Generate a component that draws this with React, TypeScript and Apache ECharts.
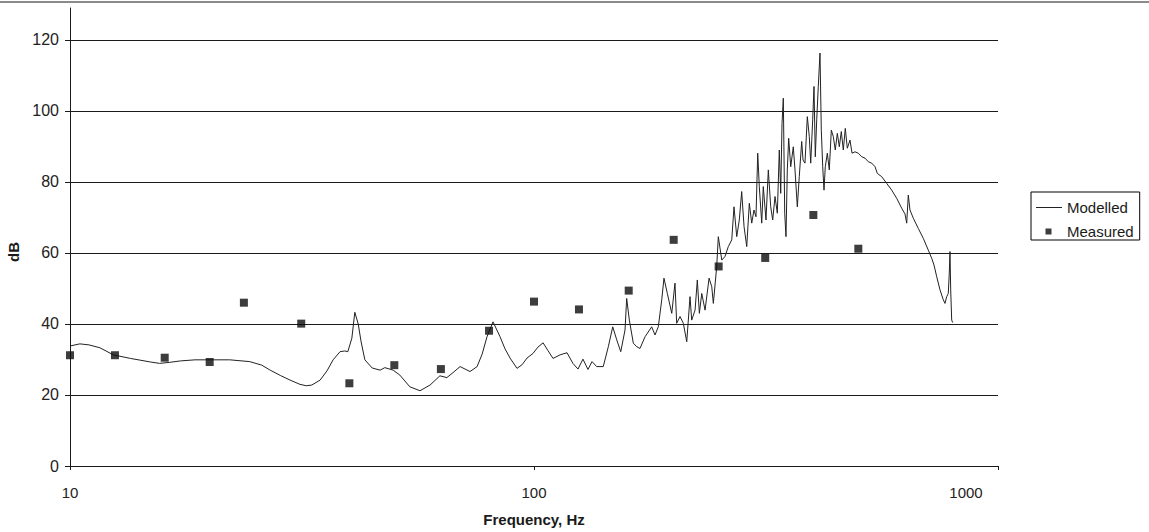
import React, { useEffect, useRef } from "react";
import * as echarts from "echarts";

// Modelled spectrum: [frequency Hz, level dB]
const modelled: [number, number][] = [
  [10, 33.8], [10.5, 34.4], [11.0, 34.1], [11.6, 33.3], [12.4, 31.3], [13.5, 30.3],
  [14.9, 29.3], [15.6, 28.9], [16.4, 29.2], [17.3, 29.6], [18.6, 29.9], [20.0, 29.9],
  [22.1, 29.9], [24.4, 29.4], [25.9, 28.4], [27.0, 27.0], [28.4, 25.5], [29.8, 24.2],
  [31.3, 23.0], [32.3, 22.6], [33.2, 22.8], [34.6, 24.2], [35.8, 26.8], [36.9, 29.9],
  [38.2, 32.2], [39.1, 32.4], [39.7, 32.2], [40.5, 36.0], [41.1, 43.3], [41.8, 40.0],
  [42.4, 35.0], [43.2, 29.9], [44.8, 27.6], [46.6, 27.0], [47.7, 27.7], [49.7, 27.0],
  [51.4, 25.6], [54.0, 22.3], [56.8, 21.2], [59.7, 22.8], [62.7, 25.4], [64.9, 24.9],
  [66.9, 26.3], [69.3, 28.0], [72.8, 26.6], [75.4, 28.0], [77.3, 31.5], [79.2, 36.4],
  [81.6, 40.6], [84.5, 36.4], [86.6, 33.0], [88.8, 30.4], [91.9, 27.5], [94.2, 28.5],
  [96.6, 30.4], [99.5, 31.7], [102.0, 33.5], [104.6, 34.7], [107.2, 32.5], [109.9, 30.3],
  [113.8, 31.3], [117.8, 31.9], [121.3, 28.9], [124.4, 27.3], [127.5, 30.1], [130.7, 27.2],
  [133.4, 29.4], [136.5, 28.0], [141.0, 28.0], [144.6, 33.6], [147.8, 39.2], [150.8, 35.5],
  [153.8, 32.2], [157.1, 38.3], [158.4, 47.2], [160.5, 41.1], [163.7, 34.6], [166.5, 33.6],
  [169.2, 33.1], [173.5, 36.4], [179.3, 39.2], [182.3, 36.9], [185.3, 39.2], [188.5, 46.8],
  [190.6, 52.9], [193.8, 48.6], [198.1, 43.0], [201.3, 51.5], [203.0, 40.2], [206.4, 42.1],
  [209.8, 40.2], [213.4, 35.0], [216.9, 47.7], [218.7, 41.1], [222.4, 43.9], [224.9, 52.4],
  [227.2, 43.0], [229.9, 48.6], [233.7, 43.9], [238.4, 52.9], [241.6, 50.5], [243.5, 45.8],
  [247.6, 56.1], [249.6, 64.6], [253.9, 58.0], [258.0, 59.0], [262.3, 61.8], [266.8, 63.7],
  [269.8, 73.0], [273.5, 64.6], [277.0, 69.3], [280.3, 77.3], [283.6, 67.4], [287.4, 61.8],
  [291.1, 74.0], [294.6, 68.4], [297.9, 72.1], [300.9, 70.2], [303.5, 88.1], [305.9, 78.7],
  [309.6, 68.4], [312.0, 78.7], [316.2, 69.3], [319.9, 83.4], [323.7, 73.0], [326.9, 69.3],
  [330.7, 75.9], [334.5, 71.2], [337.8, 89.0], [340.2, 76.8], [342.4, 96.5], [344.6, 103.6],
  [347.0, 71.2], [349.2, 64.6], [351.5, 83.4], [353.9, 92.3], [357.5, 84.3], [362.1, 89.9],
  [365.2, 83.4], [369.4, 73.0], [373.0, 81.5], [377.5, 91.4], [380.0, 86.2], [383.7, 85.3],
  [388.2, 98.4], [392.0, 92.8], [394.8, 85.3], [398.7, 97.5], [401.3, 106.9], [403.9, 87.1],
  [406.7, 97.5], [409.9, 106.9], [413.4, 116.3], [416.1, 94.6], [419.0, 84.3], [421.7, 77.7],
  [424.4, 84.3], [428.7, 88.1], [432.9, 83.4], [437.3, 94.6], [441.6, 92.8], [446.0, 89.0],
  [450.5, 93.7], [455.0, 89.9], [459.5, 94.2], [464.1, 89.0], [468.7, 95.1], [473.4, 89.5],
  [479.8, 91.8], [484.6, 88.1], [491.8, 88.5], [500.0, 88.1], [508.5, 87.1], [516.9, 86.7],
  [525.4, 85.7], [534.3, 85.3], [543.2, 84.3], [549.4, 82.4], [561.5, 81.5], [575.6, 79.6],
  [590.1, 77.7], [604.9, 75.4], [620.1, 72.6], [630.3, 71.0], [635.7, 68.4], [640.7, 76.3],
  [646.1, 72.1], [656.8, 69.8], [673.4, 66.9], [690.3, 64.1], [707.6, 60.8], [719.7, 58.5],
  [727.9, 56.6], [737.8, 53.3], [749.9, 49.6], [762.3, 46.8], [768.7, 45.8], [775.2, 47.7],
  [781.4, 48.6], [785.3, 54.3], [788.0, 60.4], [790.8, 49.6], [794.7, 41.1], [798.7, 40.4],
];

// Measured third-octave levels
const measuredHz = [10, 12.5, 16, 20, 23.7, 31.5, 40, 50, 63, 80, 100, 125, 160, 200, 250, 315, 400, 500];
const measuredDb = [31.2, 31.2, 30.5, 29.3, 46.0, 40.1, 23.3, 28.4, 27.3, 38.1, 46.3, 44.1, 49.4, 63.7, 56.2, 58.6, 70.7, 61.2];

const yTicks = [0, 20, 40, 60, 80, 100, 120];
const seriesNames = ["Modelled", "Measured"];

const FONT = "'Liberation Sans', Arial, sans-serif";
const INK = "#1a1a1a";

// Legend glyphs drawn inside a 26x7 box (zero-length subpaths pin the box corners)
const LINE_ICON = "path://M0,0L0,0M0,3h26v1h-26zM26,7L26,7";
const SQUARE_ICON = "path://M0,0L0,0M9.5,0.5h6v6h-6zM26,7L26,7";

export default function App() {
  const ref = useRef<HTMLDivElement>(null);

  useEffect(() => {
    if (!ref.current) return;
    const chart = echarts.init(ref.current, null, { renderer: "svg" });

    chart.setOption({
      animation: false,
      backgroundColor: "#ffffff",
      textStyle: { fontFamily: FONT },
      grid: { left: 70, right: 151, top: 8, bottom: 66, outerBoundsMode: "none", containLabel: false },
      graphic: [
        {
          type: "line",
          shape: { x1: 0, y1: 2, x2: 1149, y2: 2 },
          style: { stroke: "#8a8a8a", lineWidth: 2 },
          silent: true,
        },
      ],
      legend: {
        data: [
          { name: seriesNames[0], icon: LINE_ICON },
          { name: seriesNames[1], icon: SQUARE_ICON },
        ],
        orient: "vertical",
        left: 1031,
        top: 192,
        itemWidth: 26,
        itemHeight: 7,
        itemGap: 9,
        padding: [8, 6, 1, 5],
        borderColor: "#000",
        borderWidth: 1,
        textStyle: { fontSize: 15, color: INK, fontFamily: FONT },
      },
      xAxis: {
        type: "log",
        logBase: 10,
        min: 10,
        max: 1000,
        name: "Frequency, Hz",
        nameLocation: "middle",
        nameGap: 46,
        nameTextStyle: { fontSize: 15, fontWeight: "bold", color: INK, fontFamily: FONT },
        axisLine: { show: true, lineStyle: { color: INK, width: 1 } },
        axisTick: { show: true, length: 4, lineStyle: { color: INK } },
        axisLabel: {
          fontSize: 15,
          color: "#222",
          margin: 19,
          fontFamily: FONT,
          formatter: (v: number) => (v >= 1000 ? "{last|" + v + "}" : String(v)),
          rich: { last: { fontSize: 15, color: "#222", padding: [0, 64, 0, 0], fontFamily: FONT } },
        },
        splitLine: { show: false },
        minorTick: { show: false },
        minorSplitLine: { show: false },
      },
      yAxis: {
        type: "value",
        min: 0,
        max: 129,
        interval: 20,
        name: "dB",
        nameLocation: "middle",
        nameGap: 46,
        nameRotate: 90,
        nameTextStyle: {
          fontSize: 15,
          fontWeight: "bold",
          color: INK,
          fontFamily: FONT,
          padding: [0, 30, 0, 0],
        },
        axisLine: { show: true, lineStyle: { color: INK, width: 1 } },
        axisTick: { show: true, length: 5, inside: false, lineStyle: { color: INK }, customValues: yTicks },
        axisLabel: {
          fontSize: 16,
          color: "#222",
          margin: 11,
          fontFamily: FONT,
          customValues: yTicks,
          formatter: (v: number) => (v % 20 === 0 ? String(v) : ""),
        },
        splitLine: { show: true, lineStyle: { color: INK, width: 1 } },
      },
      series: [
        {
          name: seriesNames[0],
          type: "line",
          data: modelled,
          symbol: "none",
          showSymbol: false,
          lineStyle: { color: "#222", width: 1 },
          itemStyle: { color: "#222" },
          z: 3,
        },
        {
          name: seriesNames[1],
          type: "scatter",
          data: measuredHz.map((f, i) => [f, measuredDb[i]]),
          symbol: "rect",
          symbolSize: 8,
          itemStyle: { color: "#0d0d0d" },
          clip: false,
          z: 4,
        },
      ],
    });

    return () => chart.dispose();
  }, []);

  return (
    <div
      ref={ref}
      style={{ position: "fixed", left: 0, top: 0, width: 1149, height: 532 }}
    />
  );
}
